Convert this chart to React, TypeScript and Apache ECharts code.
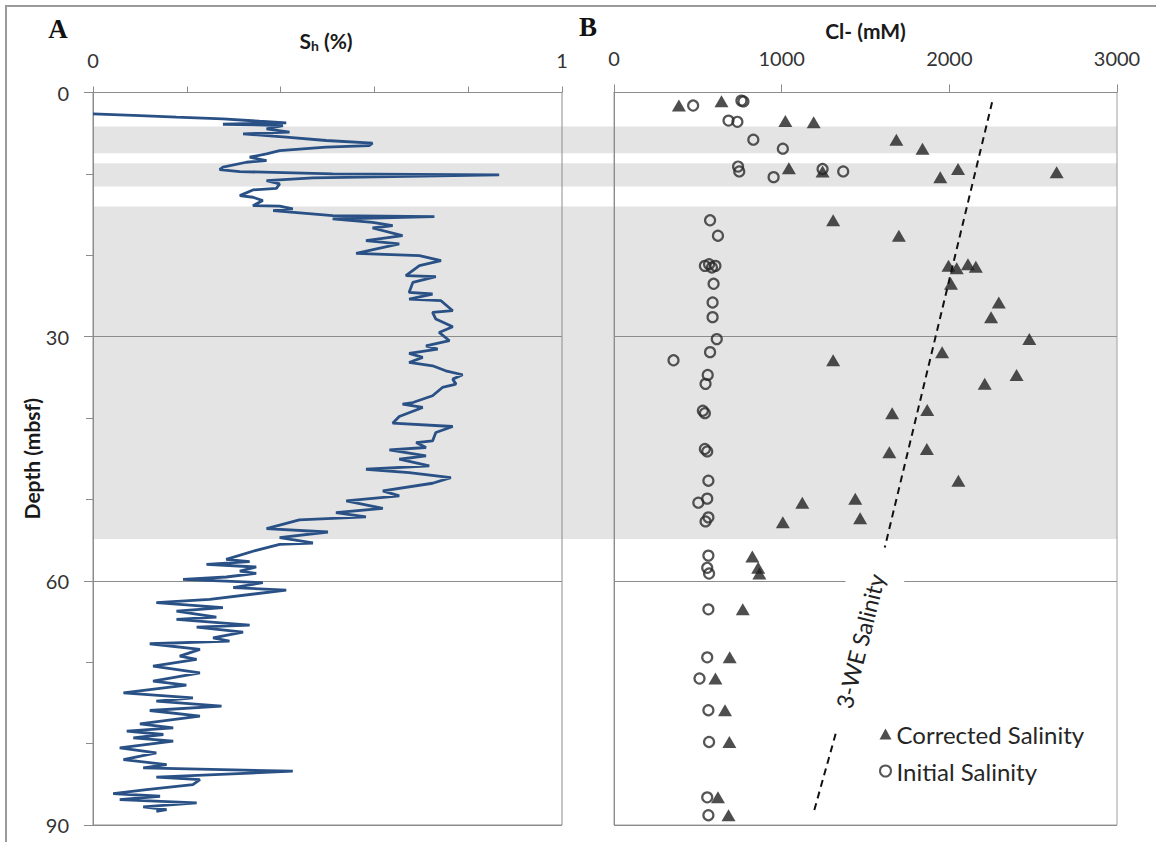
import React, { useEffect, useRef } from "react";
import * as echarts from "echarts";

// Panel A: hydrate saturation Sh (fraction) vs depth (mbsf)
const shProfile: number[][] = [
  [0.0, 2.62], [0.1, 2.83], [0.178, 3.03], [0.277, 3.24], [0.355, 3.53], [0.412, 3.73], [0.277, 3.9], [0.405, 4.06],
  [0.37, 4.47], [0.419, 4.88], [0.32, 5.08], [0.384, 5.37], [0.412, 5.49], [0.497, 5.9], [0.596, 6.23], [0.589, 6.52],
  [0.497, 6.72], [0.398, 7.13], [0.37, 7.54], [0.334, 7.95], [0.37, 8.36], [0.327, 8.57], [0.277, 9.18], [0.27, 9.47],
  [0.313, 9.72], [0.511, 10.0], [0.866, 10.13], [0.639, 10.33], [0.469, 10.5], [0.37, 10.82], [0.398, 11.23], [0.391, 11.77],
  [0.341, 11.97], [0.313, 12.67], [0.341, 12.87], [0.362, 13.28], [0.341, 13.9], [0.398, 13.95], [0.426, 14.31], [0.384, 14.51],
  [0.511, 15.13], [0.728, 15.25], [0.511, 15.54], [0.596, 15.95], [0.639, 16.36], [0.596, 16.65], [0.66, 17.59], [0.582, 18.2],
  [0.653, 18.61], [0.561, 19.76], [0.696, 20.05], [0.742, 20.66], [0.696, 21.28], [0.667, 22.51], [0.731, 22.63], [0.682, 23.33],
  [0.674, 24.56], [0.724, 24.76], [0.674, 25.38], [0.742, 25.58], [0.767, 26.81], [0.724, 27.02], [0.731, 27.84], [0.767, 28.78],
  [0.738, 29.48], [0.76, 30.5], [0.71, 31.12], [0.735, 31.53], [0.674, 32.06], [0.703, 32.55], [0.674, 33.17], [0.724, 33.58],
  [0.752, 34.19], [0.788, 34.68], [0.767, 35.22], [0.774, 35.83], [0.745, 36.24], [0.724, 37.26], [0.682, 38.09], [0.66, 38.29],
  [0.703, 38.7], [0.653, 39.81], [0.639, 40.63], [0.767, 41.04], [0.731, 41.78], [0.724, 42.81], [0.689, 43.01], [0.71, 43.62],
  [0.632, 43.91], [0.71, 44.65], [0.653, 45.06], [0.717, 45.88], [0.582, 46.29], [0.674, 46.7], [0.763, 47.31], [0.724, 48.01],
  [0.618, 48.95], [0.653, 49.57], [0.54, 50.18], [0.618, 51.09], [0.518, 51.62], [0.582, 52.15], [0.44, 52.52], [0.37, 53.59],
  [0.501, 54.0], [0.398, 54.69], [0.469, 55.35], [0.398, 55.51], [0.348, 56.25], [0.284, 57.36], [0.334, 57.65], [0.242, 57.97],
  [0.348, 58.3], [0.313, 58.8], [0.348, 59.08], [0.284, 59.53], [0.192, 59.82], [0.362, 60.23], [0.299, 60.84], [0.412, 61.13],
  [0.249, 62.28], [0.135, 62.69], [0.277, 63.3], [0.178, 63.71], [0.263, 64.45], [0.178, 64.74], [0.334, 65.44], [0.221, 65.68],
  [0.32, 66.3], [0.256, 67.0], [0.291, 67.4], [0.121, 67.73], [0.228, 68.43], [0.185, 69.25], [0.221, 69.66], [0.128, 70.48],
  [0.228, 71.3], [0.128, 72.32], [0.199, 72.82], [0.065, 73.76], [0.213, 74.37], [0.135, 74.78], [0.274, 75.4], [0.121, 75.93],
  [0.228, 76.63], [0.1, 77.57], [0.171, 78.06], [0.072, 78.47], [0.15, 78.88], [0.086, 79.29], [0.171, 79.7], [0.057, 80.52],
  [0.135, 81.14], [0.065, 81.96], [0.157, 82.57], [0.107, 82.98], [0.426, 83.39], [0.135, 84.13], [0.228, 84.42], [0.213, 85.03],
  [0.114, 85.65], [0.043, 86.14], [0.143, 86.47], [0.057, 86.88], [0.221, 87.29], [0.107, 87.78], [0.157, 88.11], [0.135, 88.31],
];

// Panel B: chloride (mM) vs depth (mbsf)
const correctedSalinity: number[][] = [
  [387, 1.6], [641, 1.07], [1022, 3.5], [1191, 3.65], [1684, 5.8], [1840, 6.9], [1043, 9.3], [1244, 9.7], [1946, 10.4],
  [2052, 9.4], [2640, 9.8], [1307, 15.7], [1699, 17.6], [1995, 21.3], [2044, 21.6], [2111, 21.1], [2158, 21.4], [2010, 23.5],
  [2295, 25.8], [2249, 27.6], [2477, 30.3], [1957, 31.9], [1307, 32.9], [2401, 34.7], [2211, 35.8], [1659, 39.4], [1868, 39.0],
  [1642, 44.2], [1866, 43.8], [2054, 47.7], [1123, 50.4], [1439, 49.9], [1007, 52.8], [1468, 52.3], [825, 57.0], [860, 58.4],
  [867, 59.1], [768, 63.5], [690, 69.4], [605, 72.0], [662, 75.9], [688, 79.8], [620, 86.6], [683, 88.8],
];

const initialSalinity: number[][] = [
  [472, 1.6], [760, 1.0], [772, 1.1], [683, 3.45], [736, 3.6], [831, 5.8], [1007, 6.9], [740, 9.1], [747, 9.7], [952, 10.4],
  [1244, 9.4], [1367, 9.7], [573, 15.7], [620, 17.6], [542, 21.3], [567, 21.1], [584, 21.5], [605, 21.3], [594, 23.5],
  [588, 25.8], [588, 27.6], [613, 30.3], [573, 31.9], [355, 32.9], [559, 34.7], [546, 35.8], [530, 39.1], [542, 39.4],
  [542, 43.8], [556, 44.1], [563, 47.7], [556, 49.9], [503, 50.4], [563, 52.2], [546, 52.7], [563, 56.9], [556, 58.4],
  [567, 59.1], [563, 63.5], [556, 69.4], [510, 72.0], [563, 75.9], [567, 79.8], [556, 86.6], [563, 88.8],
];

// 3-WE salinity trend (dashed), broken where its label sits
const weSalinityUpper: number[][] = [[2255, 1.2], [1615, 55.9]];
const weSalinityLower: number[][] = [[1322, 78.8], [1190, 88.5]];

// Shaded hydrate-bearing intervals (mbsf)
const hydrateBands: number[][] = [[4.18, 7.47], [8.7, 11.56], [14.02, 54.86]];

const depthRange = [0, 90];
const shRange = [0, 1];
const clRange = [0, 3000];

const FONT = "Lato";
const AXIS_GREY = "#8c8c8c";
const TOP = 92.5;
const HEIGHT = 732.5;

export default function App() {
  const ref = useRef<HTMLDivElement>(null);

  useEffect(() => {
    document.body.style.margin = "0";
    const chart = echarts.init(ref.current!, undefined, { renderer: "svg" });

    const depthAxisBase = {
      type: "value",
      inverse: true,
      min: depthRange[0],
      max: depthRange[1],
      interval: 30,
      axisLine: { show: true, lineStyle: { color: AXIS_GREY, width: 1 } },
      splitLine: { show: true, lineStyle: { color: AXIS_GREY, width: 1 } },
    };

    const plain = (v: number) => String(v);

    const option: any = {
      animation: false,
      backgroundColor: "#ffffff",
      grid: [
        { left: 93, top: TOP, width: 469, height: HEIGHT, show: true, borderColor: AXIS_GREY, borderWidth: 1, backgroundColor: "transparent" },
        { left: 614, top: TOP, width: 503, height: HEIGHT, show: true, borderColor: "#a0a0a0", borderWidth: 1, backgroundColor: "transparent" },
        { left: 93, top: TOP, width: 1024, height: HEIGHT, show: false },
      ],
      xAxis: [
        {
          gridIndex: 0,
          type: "value",
          position: "top",
          min: shRange[0],
          max: shRange[1],
          interval: 1,
          axisLine: { show: true, lineStyle: { color: AXIS_GREY } },
          axisTick: { show: true, length: 6, lineStyle: { color: AXIS_GREY } },
          minorTick: { show: true, splitNumber: 5, length: 6, lineStyle: { color: AXIS_GREY } },
          axisLabel: { fontFamily: FONT, fontSize: 20, color: "#333", margin: 23, formatter: plain },
          splitLine: { show: false },
        },
        {
          gridIndex: 1,
          type: "value",
          position: "top",
          min: clRange[0],
          max: clRange[1],
          interval: 1000,
          name: "Cl- (mM)",
          nameLocation: "middle",
          nameGap: 52,
          nameTextStyle: { fontFamily: FONT, fontWeight: "bold", fontSize: 21, color: "#1a1a1a" },
          axisLine: { show: true, lineStyle: { color: AXIS_GREY } },
          axisTick: { show: true, length: 8, lineStyle: { color: AXIS_GREY } },
          axisLabel: { fontFamily: FONT, fontSize: 20, color: "#333", margin: 25, formatter: plain },
          splitLine: { show: false },
        },
        { gridIndex: 2, type: "value", min: 0, max: 1, show: false },
      ],
      yAxis: [
        {
          ...depthAxisBase,
          gridIndex: 0,
          name: "Depth (mbsf)",
          nameLocation: "middle",
          nameGap: 50,
          nameTextStyle: { fontFamily: FONT, fontWeight: "bold", fontSize: 21, color: "#1a1a1a" },
          axisTick: { show: true, length: 9, lineStyle: { color: AXIS_GREY } },
          minorTick: { show: true, splitNumber: 3, length: 7, lineStyle: { color: AXIS_GREY } },
          axisLabel: { fontFamily: FONT, fontSize: 20, color: "#333", margin: 24, formatter: plain },
        },
        {
          ...depthAxisBase,
          gridIndex: 1,
          axisTick: { show: false },
          axisLabel: { show: false },
        },
        { gridIndex: 2, type: "value", inverse: true, min: depthRange[0], max: depthRange[1], show: false },
      ],
      legend: {
        orient: "vertical",
        left: 874,
        top: 716,
        itemWidth: 12,
        itemHeight: 11,
        itemGap: 11,
        data: ["Corrected Salinity", "Initial Salinity"],
        textStyle: { fontFamily: FONT, fontSize: 24, color: "#262626", lineHeight: 26 },
      },
      series: [
        {
          name: "bands",
          type: "line",
          xAxisIndex: 2,
          yAxisIndex: 2,
          data: [[0, 0]],
          symbol: "none",
          lineStyle: { opacity: 0 },
          silent: true,
          markArea: {
            silent: true,
            z: -5,
            itemStyle: { color: "#e4e4e4" },
            data: hydrateBands.map((b) => [{ yAxis: b[0] }, { yAxis: b[1] }]),
          },
        },
        {
          name: "Sh",
          type: "line",
          xAxisIndex: 0,
          yAxisIndex: 0,
          data: shProfile,
          symbol: "none",
          lineStyle: { color: "#2a5185", width: 2.8 },
        },
        {
          name: "3-WE upper",
          type: "line",
          xAxisIndex: 1,
          yAxisIndex: 1,
          data: weSalinityUpper,
          symbol: "none",
          lineStyle: { color: "#111", width: 2, type: [7, 5] },
        },
        {
          name: "3-WE lower",
          type: "line",
          xAxisIndex: 1,
          yAxisIndex: 1,
          data: weSalinityLower,
          symbol: "none",
          lineStyle: { color: "#111", width: 2, type: [7, 5] },
        },
        {
          name: "Initial Salinity",
          type: "scatter",
          xAxisIndex: 1,
          yAxisIndex: 1,
          data: initialSalinity,
          symbol: "circle",
          symbolSize: 10,
          itemStyle: { color: "rgba(0,0,0,0)", borderColor: "#2a2a2a", borderWidth: 2.2 },
        },
        {
          name: "Corrected Salinity",
          type: "scatter",
          xAxisIndex: 1,
          yAxisIndex: 1,
          data: correctedSalinity,
          symbol: "triangle",
          symbolSize: [14, 12],
          itemStyle: { color: "#222" },
        },
      ],
      graphic: [
        {
          type: "rect",
          shape: { x: 6, y: 6, width: 1180, height: 880 },
          style: { fill: "none", stroke: "#9a9a9a", lineWidth: 2 },
          silent: true,
        },
        {
          type: "text",
          x: 58,
          y: 29,
          style: { text: "A", fontFamily: "Liberation Serif", fontWeight: "bold", fontSize: 27, fill: "#111", align: "center", verticalAlign: "middle" },
        },
        {
          type: "text",
          x: 588,
          y: 27,
          style: { text: "B", fontFamily: "Liberation Serif", fontWeight: "bold", fontSize: 27, fill: "#111", align: "center", verticalAlign: "middle" },
        },
        {
          type: "text",
          x: 326,
          y: 40,
          style: {
            text: "{s|S}{sub|h}{s| (%)}",
            align: "center",
            verticalAlign: "middle",
            rich: {
              s: { fontFamily: FONT, fontWeight: "bold", fontSize: 21, fill: "#1a1a1a", lineHeight: 24, verticalAlign: "middle" },
              sub: { fontFamily: FONT, fontWeight: "bold", fontSize: 14, fill: "#1a1a1a", lineHeight: 9, verticalAlign: "bottom" },
            },
          },
        },
        {
          type: "text",
          x: 860,
          y: 641,
          rotation: (76 * Math.PI) / 180,
          z: 10,
          style: {
            text: "3-WE Salinity",
            fontFamily: FONT,
            fontSize: 23,
            fill: "#222",
            align: "center",
            verticalAlign: "middle",
            backgroundColor: "#ffffff",
            padding: [17, 4],
          },
        },
      ],
    };

    chart.setOption(option);
    return () => chart.dispose();
  }, []);

  return <div ref={ref} style={{ width: 1156, height: 842 }} />;
}
